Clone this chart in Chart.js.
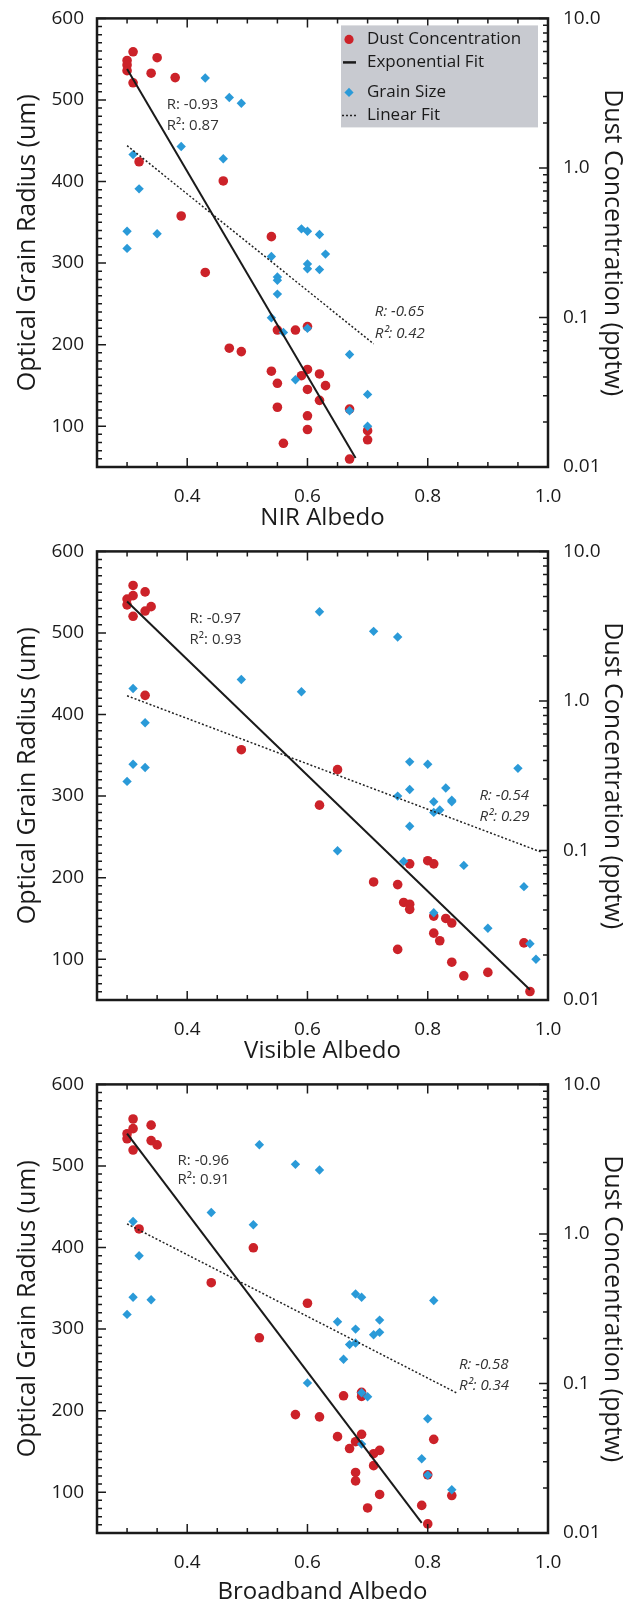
<!DOCTYPE html>
<html>
<head>
<meta charset="utf-8">
<script src="https://cdn.jsdelivr.net/npm/chart.js@4.4.1/dist/chart.umd.min.js"></script>
<style>
  body { margin: 0; background: #fff; width: 635px; height: 1599px; overflow: hidden; }
  canvas { display: block; }
</style>
</head>
<body>
<canvas id="nir" width="635" height="533"></canvas>
<canvas id="vis" width="635" height="533"></canvas>
<canvas id="bb" width="635" height="533"></canvas>
<script>
// tick labels
const xTicks = [0.4, 0.6, 0.8, 1.0];
const grainTicks = [100, 200, 300, 400, 500, 600];
const dustTicks = [0.01, 0.1, 1, 10];
const dustTickLabels = ['0.01', '0.1', '1.0', '10.0'];
const legendLabels = ['Dust Concentration', 'Exponential Fit', 'Grain Size', 'Linear Fit'];

// NIR albedo panel
const nirDustAlbedo = [0.30, 0.30, 0.30, 0.31, 0.31, 0.35, 0.34, 0.38, 0.32, 0.39, 0.43, 0.46, 0.47, 0.49, 0.54, 0.54, 0.55, 0.55, 0.55, 0.58, 0.59, 0.60, 0.60, 0.60, 0.60, 0.60, 0.56, 0.62, 0.62, 0.63, 0.67, 0.67, 0.70, 0.70];
const nirDust = [5.23, 4.88, 4.47, 5.98, 3.71, 5.46, 4.30, 4.02, 1.10, 0.477, 0.200, 0.818, 0.0623, 0.0591, 0.347, 0.0437, 0.0363, 0.0251, 0.0824, 0.0824, 0.0408, 0.0869, 0.0449, 0.0330, 0.0220, 0.0178, 0.0144, 0.0419, 0.0279, 0.0350, 0.0244, 0.0113, 0.0175, 0.0152];
const nirGrainAlbedo = [0.30, 0.30, 0.31, 0.32, 0.35, 0.39, 0.43, 0.46, 0.47, 0.49, 0.54, 0.55, 0.55, 0.55, 0.54, 0.56, 0.59, 0.60, 0.60, 0.60, 0.62, 0.62, 0.63, 0.60, 0.58, 0.67, 0.67, 0.70, 0.70];
const nirGrain = [339, 318, 433, 391, 336, 443, 527, 428, 503, 496, 308, 283, 279, 262, 233, 215, 342, 339, 299, 293, 335, 292, 311, 220, 157, 188, 119, 139, 100];
const nirExpAlbedo = [0.30, 0.68];
const nirExpDust = [4.59, 0.0115];
const nirLinAlbedo = [0.30, 0.71];
const nirLinGrain = [444, 201];
const nirStats = ['R: -0.93', 'R\u00b2: 0.87', 'R: -0.65', 'R\u00b2: 0.42'];

// visible albedo panel
const visDustAlbedo = [0.31, 0.31, 0.30, 0.30, 0.31, 0.33, 0.33, 0.34, 0.33, 0.49, 0.65, 0.62, 0.71, 0.75, 0.77, 0.80, 0.81, 0.76, 0.77, 0.77, 0.81, 0.83, 0.84, 0.81, 0.82, 0.75, 0.84, 0.86, 0.90, 0.96, 0.97];
const visDust = [5.92, 5.06, 4.80, 4.39, 3.68, 5.36, 3.99, 4.27, 1.09, 0.472, 0.347, 0.201, 0.0616, 0.0591, 0.0814, 0.0854, 0.0814, 0.0449, 0.0437, 0.0404, 0.0364, 0.0351, 0.0327, 0.0280, 0.0249, 0.0218, 0.0179, 0.0145, 0.0153, 0.0241, 0.0114];
const visGrainAlbedo = [0.31, 0.33, 0.31, 0.33, 0.30, 0.49, 0.59, 0.62, 0.71, 0.75, 0.65, 0.76, 0.77, 0.80, 0.77, 0.75, 0.81, 0.83, 0.82, 0.81, 0.84, 0.84, 0.77, 0.86, 0.81, 0.95, 0.96, 0.90, 0.97, 0.98];
const visGrain = [432, 390, 339, 335, 318, 443, 428, 526, 502, 495, 233, 220, 342, 339, 308, 300, 293, 310, 283, 280, 295, 293, 263, 215, 157, 334, 189, 138, 119, 100];
const visExpAlbedo = [0.30, 0.97];
const visExpDust = [4.63, 0.0117];
const visLinAlbedo = [0.30, 0.99];
const visLinGrain = [423, 231];
const visStats = ['R: -0.97', 'R\u00b2: 0.93', 'R: -0.54', 'R\u00b2: 0.29'];

// broadband albedo panel
const bbDustAlbedo = [0.31, 0.31, 0.30, 0.30, 0.31, 0.34, 0.34, 0.35, 0.32, 0.44, 0.51, 0.52, 0.60, 0.58, 0.62, 0.66, 0.69, 0.69, 0.65, 0.69, 0.68, 0.67, 0.72, 0.71, 0.68, 0.68, 0.72, 0.70, 0.79, 0.81, 0.80, 0.80, 0.84, 0.71];
const bbDust = [5.87, 5.06, 4.68, 4.33, 3.64, 5.34, 4.21, 3.94, 1.08, 0.472, 0.808, 0.202, 0.344, 0.0619, 0.0598, 0.0827, 0.0872, 0.0819, 0.0441, 0.0457, 0.0408, 0.0367, 0.0357, 0.0282, 0.0254, 0.0223, 0.0181, 0.0147, 0.0153, 0.0423, 0.0245, 0.0115, 0.0178, 0.0339];
const bbGrainAlbedo = [0.31, 0.32, 0.31, 0.34, 0.30, 0.44, 0.51, 0.52, 0.58, 0.62, 0.60, 0.65, 0.68, 0.69, 0.68, 0.67, 0.68, 0.66, 0.71, 0.72, 0.72, 0.69, 0.70, 0.69, 0.80, 0.81, 0.79, 0.80, 0.84];
const bbGrain = [432, 390, 339, 336, 318, 443, 428, 526, 502, 495, 234, 309, 343, 339, 300, 281, 283, 263, 293, 296, 311, 222, 217, 159, 190, 335, 141, 121, 103];
const bbExpAlbedo = [0.30, 0.79];
const bbExpDust = [4.69, 0.0117];
const bbLinAlbedo = [0.30, 0.85];
const bbLinGrain = [429, 221];
const bbStats = ['R: -0.96', 'R\u00b2: 0.91', 'R: -0.58', 'R\u00b2: 0.34'];

const FONT = '"Open Sans", sans-serif';
const INK = '#1a1a1a';
const RED = '#cc2229';
const BLUE = '#2a9ad8';

const pts = (xs, ys) => xs.map((x, i) => ({ x: x, y: ys[i] }));

// frame, inward ticks, stat labels and legend
const framePlugin = {
  id: 'frame',
  afterDatasetsDraw(chart, args, opts) {
    const { ctx, chartArea: a, scales } = chart;
    const x = scales.x, yl = scales.y, yr = scales.y2;
    ctx.save();
    ctx.strokeStyle = INK;
    ctx.lineWidth = 1.5;
    ctx.beginPath();
    for (let v = 25; v <= 100; v += 5) {
      const px = x.getPixelForValue(v / 100);
      const len = v % 20 === 0 ? 9 : 5;
      ctx.moveTo(px, a.bottom); ctx.lineTo(px, a.bottom - len);
      ctx.moveTo(px, a.top); ctx.lineTo(px, a.top + len);
    }
    for (let v = 50; v <= 600; v += 10) {
      const py = yl.getPixelForValue(v);
      const len = v % 100 === 0 ? 9 : 5;
      ctx.moveTo(a.left, py); ctx.lineTo(a.left + len, py);
    }
    for (let d = -2; d <= 1; d++) {
      for (let m = 1; m < 10; m++) {
        const v = m * Math.pow(10, d);
        if (v > 10.0001) break;
        const py = yr.getPixelForValue(v);
        const len = m === 1 ? 9 : 5;
        ctx.moveTo(a.right, py); ctx.lineTo(a.right - len, py);
      }
    }
    ctx.stroke();
    ctx.lineWidth = 2.5;
    ctx.strokeRect(a.left, a.top, a.right - a.left, a.bottom - a.top);

    // correlation labels
    ctx.fillStyle = '#333';
    ctx.textAlign = 'left';
    ctx.textBaseline = 'middle';
    opts.stats.forEach((t, i) => {
      const p = opts.statPos[i];
      ctx.font = (i > 1 ? 'italic ' : '') + '15px ' + FONT;
      ctx.fillText(t, x.getPixelForValue(p[0]), yl.getPixelForValue(p[1]));
    });

    if (opts.legend) {
      const bx = a.right - 207, by = a.top + 7, bw = 197, bh = 102;
      ctx.fillStyle = '#c8cad0';
      ctx.fillRect(bx, by, bw, bh);
      const rows = [14, 37, 67, 90];
      const mx = bx + 8;
      ctx.font = '17px ' + FONT;
      ctx.fillStyle = INK;
      legendLabels.forEach((t, i) => ctx.fillText(t, bx + 26, by + rows[i]));
      // markers
      ctx.fillStyle = RED;
      ctx.beginPath(); ctx.arc(mx, by + rows[0], 4.6, 0, Math.PI * 2); ctx.fill();
      ctx.strokeStyle = INK; ctx.lineWidth = 2.5;
      ctx.beginPath(); ctx.moveTo(mx - 6, by + rows[1]); ctx.lineTo(mx + 7, by + rows[1]); ctx.stroke();
      ctx.fillStyle = BLUE;
      const cy = by + rows[2];
      ctx.beginPath(); ctx.moveTo(mx, cy - 4.6); ctx.lineTo(mx + 4.6, cy); ctx.lineTo(mx, cy + 4.6); ctx.lineTo(mx - 4.6, cy); ctx.closePath(); ctx.fill();
      ctx.strokeStyle = '#222'; ctx.lineWidth = 1.5; ctx.setLineDash([2, 2]);
      ctx.beginPath(); ctx.moveTo(mx - 7, by + rows[3]); ctx.lineTo(mx + 8, by + rows[3]); ctx.stroke();
      ctx.setLineDash([]);
    }
    ctx.restore();
  }
};

function makePanel(id, p) {
  return new Chart(document.getElementById(id), {
    type: 'scatter',
    data: {
      datasets: [
        { label: 'Exponential Fit', data: pts(p.expAlbedo, p.expDust), yAxisID: 'y2', showLine: true,
          borderColor: INK, borderWidth: 2, pointRadius: 0, order: 0 },
        { label: 'Linear Fit', data: pts(p.linAlbedo, p.linGrain), yAxisID: 'y', showLine: true,
          borderColor: '#222', borderWidth: 1.5, borderDash: [2, 2], pointRadius: 0, order: 0 },
        { label: 'Grain Size', data: pts(p.grainAlbedo, p.grain), yAxisID: 'y', pointStyle: 'rectRot',
          pointRadius: 4.7, backgroundColor: BLUE, borderWidth: 0, order: 1 },
        { label: 'Dust Concentration', data: pts(p.dustAlbedo, p.dust), yAxisID: 'y2', pointStyle: 'circle',
          pointRadius: 4.8, backgroundColor: RED, borderWidth: 0, order: 2 }
      ]
    },
    options: {
      responsive: false,
      animation: false,
      layout: { padding: { top: 16, left: 0, right: 0, bottom: 0 } },
      plugins: {
        legend: { display: false },
        tooltip: { enabled: false },
        frame: { stats: p.stats, statPos: p.statPos, legend: p.legend }
      },
      scales: {
        x: {
          type: 'linear', position: 'bottom', min: 0.25, max: 1.0,
          afterBuildTicks: s => { s.ticks = xTicks.map(v => ({ value: v })); },
          afterFit: s => { s.height = 66; },
          grid: { display: false }, border: { display: false },
          ticks: { padding: 10, color: INK, font: { family: FONT, size: 19 }, maxRotation: 0, autoSkip: false,
                   callback: v => Number(v).toFixed(1) },
          title: { display: true, text: p.title, color: INK, font: { family: FONT, size: 24 },
                   padding: { top: 0, bottom: p.titleDrop } }
        },
        y: {
          type: 'linear', position: 'left', min: 50, max: 600,
          afterBuildTicks: s => { s.ticks = grainTicks.map(v => ({ value: v })); },
          afterFit: s => { s.width = 97; },
          grid: { display: false }, border: { display: false },
          ticks: { padding: 5, color: INK, font: { family: FONT, size: 19 }, autoSkip: false },
          title: { display: true, text: 'Optical Grain Radius (um)', color: INK, font: { family: FONT, size: 25 }, padding: { top: 13, bottom: 0 } }
        },
        y2: {
          type: 'logarithmic', position: 'right', min: 0.01, max: 10,
          afterBuildTicks: s => { s.ticks = dustTicks.map(v => ({ value: v })); },
          afterFit: s => { s.width = 87; },
          grid: { display: false }, border: { display: false },
          ticks: { padding: 7, color: INK, font: { family: FONT, size: 19 }, autoSkip: false,
                   callback: (v, i) => dustTickLabels[i] },
          title: { display: true, text: 'Dust Concentration (pptw)', color: INK, font: { family: FONT, size: 25 }, padding: { top: 8, bottom: 0 } }
        }
      }
    },
    plugins: [framePlugin]
  });
}

makePanel('nir', {
  title: 'NIR Albedo', legend: true, titleDrop: 0,
  dustAlbedo: nirDustAlbedo, dust: nirDust, grainAlbedo: nirGrainAlbedo, grain: nirGrain,
  expAlbedo: nirExpAlbedo, expDust: nirExpDust, linAlbedo: nirLinAlbedo, linGrain: nirLinGrain,
  stats: nirStats, statPos: [[0.366, 494], [0.366, 468], [0.712, 240], [0.712, 214]]
});
makePanel('vis', {
  title: 'Visible Albedo', legend: false, titleDrop: 0,
  dustAlbedo: visDustAlbedo, dust: visDust, grainAlbedo: visGrainAlbedo, grain: visGrain,
  expAlbedo: visExpAlbedo, expDust: visExpDust, linAlbedo: visLinAlbedo, linGrain: visLinGrain,
  stats: visStats, statPos: [[0.404, 518], [0.404, 492], [0.886, 300], [0.886, 275]]
});
makePanel('bb', {
  title: 'Broadband Albedo', legend: false, titleDrop: -8,
  dustAlbedo: bbDustAlbedo, dust: bbDust, grainAlbedo: bbGrainAlbedo, grain: bbGrain,
  expAlbedo: bbExpAlbedo, expDust: bbExpDust, linAlbedo: bbLinAlbedo, linGrain: bbLinGrain,
  stats: bbStats, statPos: [[0.384, 507], [0.384, 483], [0.852, 256], [0.852, 231]]
});
</script>
</body>
</html>
